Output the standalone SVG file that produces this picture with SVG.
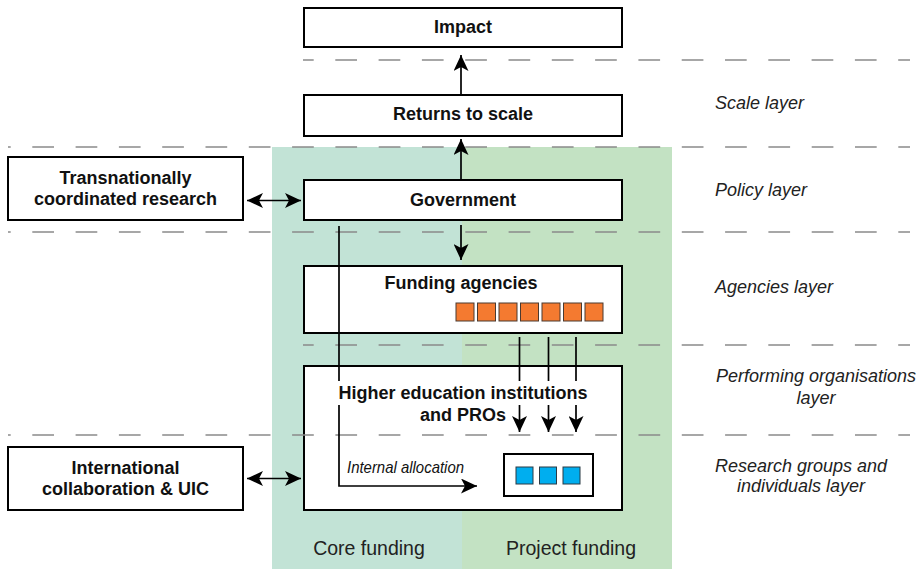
<svg xmlns="http://www.w3.org/2000/svg" width="923" height="569" viewBox="0 0 923 569">
  <style>
    .box { fill: #ffffff; stroke: #000000; stroke-width: 2; }
    .title { font-family: "Liberation Sans", Arial, sans-serif; font-weight: bold; font-size: 18px; fill: #111111; text-anchor: middle; }
    .layer { font-family: "Liberation Sans", Arial, sans-serif; font-style: italic; font-size: 18px; fill: #222222; }
    .band { font-family: "Liberation Sans", Arial, sans-serif; font-size: 19.5px; fill: #222222; text-anchor: middle; }
    .note { font-family: "Liberation Sans", Arial, sans-serif; font-style: italic; font-size: 16.5px; fill: #111111; }
    .dash { stroke: #8a8a8a; stroke-width: 1.5; stroke-dasharray: 21.7 21.6; fill: none; }
    .wire { stroke: #000000; stroke-width: 1.7; fill: none; }
    .arrow { stroke: #000000; stroke-width: 1.7; fill: none; marker-end: url(#head); }
    .both { stroke: #000000; stroke-width: 1.7; fill: none; marker-end: url(#head); marker-start: url(#head); }
    .orange { fill: #f47a30; stroke: #4a3a30; stroke-width: 1; }
    .blue { fill: #00aeef; stroke: #2a3a45; stroke-width: 1; }
  </style>
  <defs>
    <marker id="head" markerUnits="userSpaceOnUse" viewBox="0 0 16 15" markerWidth="16" markerHeight="15" refX="16" refY="7.5" orient="auto-start-reverse">
      <path d="M0,0 L16,7.5 L0,15 L4,7.5 z" fill="#000000"/>
    </marker>
  </defs>

  <!-- funding bands -->
  <g id="bands">
    <rect x="272" y="147" width="190" height="422" fill="#c2e3d6"/>
    <rect x="462" y="147" width="210" height="422" fill="#c3e2c3"/>
    <text class="band" x="369" y="555">Core funding</text>
    <text class="band" x="571" y="555">Project funding</text>
  </g>

  <!-- nodes -->
  <g id="impact">
    <rect class="box" x="304" y="8" width="318" height="39"/>
    <text class="title" x="463" y="33">Impact</text>
  </g>
  <g id="returns-to-scale">
    <rect class="box" x="304" y="95" width="318" height="41"/>
    <text class="title" x="463" y="120">Returns to scale</text>
  </g>
  <g id="transnational">
    <rect class="box" x="8" y="157" width="235" height="63"/>
    <text class="title" x="125.5" y="184">Transnationally</text>
    <text class="title" x="125.5" y="205">coordinated research</text>
  </g>
  <g id="government">
    <rect class="box" x="304" y="180" width="318" height="40"/>
    <text class="title" x="463" y="206">Government</text>
  </g>
  <g id="funding-agencies">
    <rect class="box" x="304" y="266" width="318" height="67"/>
    <text class="title" x="461" y="289">Funding agencies</text>
    <rect class="orange" x="456" y="303" width="18" height="18"/>
    <rect class="orange" x="477.5" y="303" width="18" height="18"/>
    <rect class="orange" x="499" y="303" width="18" height="18"/>
    <rect class="orange" x="520.5" y="303" width="18" height="18"/>
    <rect class="orange" x="542" y="303" width="18" height="18"/>
    <rect class="orange" x="563.5" y="303" width="18" height="18"/>
    <rect class="orange" x="585" y="303" width="18" height="18"/>
  </g>
  <g id="hei">
    <rect class="box" x="304" y="366" width="318" height="144"/>
    <text class="title" x="463" y="399">Higher education institutions</text>
    <text class="title" x="463" y="421">and PROs</text>
  </g>
  <g id="research-groups">
    <rect class="box" x="504" y="454" width="89" height="42" stroke-width="1.5"/>
    <rect class="blue" x="516" y="467" width="17" height="17"/>
    <rect class="blue" x="539.5" y="467" width="17" height="17"/>
    <rect class="blue" x="563" y="467" width="17" height="17"/>
  </g>
  <g id="international">
    <rect class="box" x="8" y="447" width="235" height="63"/>
    <text class="title" x="125.5" y="474">International</text>
    <text class="title" x="125.5" y="495">collaboration &amp; UIC</text>
  </g>

  <!-- layer separators -->
  <g id="separators">
    <line class="dash" x1="303" y1="60" x2="910" y2="60" stroke-dashoffset="11"/>
    <line class="dash" x1="8" y1="147" x2="910" y2="147" stroke-dashoffset="19"/>
    <line class="dash" x1="8" y1="232" x2="910" y2="232" stroke-dashoffset="19"/>
    <line class="dash" x1="303" y1="345" x2="910" y2="345" stroke-dashoffset="11"/>
    <line class="dash" x1="8" y1="435" x2="910" y2="435" stroke-dashoffset="19"/>
  </g>

  <!-- layer labels -->
  <g id="layer-labels">
    <text class="layer" x="715" y="109">Scale layer</text>
    <text class="layer" x="715" y="196">Policy layer</text>
    <text class="layer" x="715" y="293">Agencies layer</text>
    <text class="layer" x="816" y="382" text-anchor="middle">Performing organisations</text>
    <text class="layer" x="816" y="404" text-anchor="middle">layer</text>
    <text class="layer" x="801" y="472" text-anchor="middle">Research groups and</text>
    <text class="layer" x="801" y="492" text-anchor="middle">individuals layer</text>
  </g>

  <!-- connectors -->
  <g id="connectors">
    <line class="arrow" x1="461" y1="95" x2="461" y2="55"/>
    <line class="arrow" x1="461" y1="180" x2="461" y2="139"/>
    <line class="arrow" x1="461" y1="225" x2="461" y2="260"/>
    <line class="both" x1="247" y1="200.5" x2="301" y2="200.5"/>
    <line class="both" x1="247" y1="478.5" x2="301" y2="478.5"/>
    <!-- core funding: government straight down to internal allocation -->
    <line class="wire" x1="339" y1="226" x2="339" y2="381"/>
    <path class="arrow" d="M339,405 L339,486 L477,486"/>
    <text class="note" x="347" y="473" textLength="117" lengthAdjust="spacingAndGlyphs">Internal allocation</text>
    <!-- project funding from agencies -->
    <line class="wire" x1="519.5" y1="337" x2="519.5" y2="381"/>
    <line class="arrow" x1="519.5" y1="405" x2="519.5" y2="432"/>
    <line class="wire" x1="548.5" y1="337" x2="548.5" y2="381"/>
    <line class="arrow" x1="548.5" y1="405" x2="548.5" y2="432"/>
    <line class="wire" x1="576" y1="337" x2="576" y2="381"/>
    <line class="arrow" x1="576" y1="405" x2="576" y2="432"/>
  </g>
</svg>
